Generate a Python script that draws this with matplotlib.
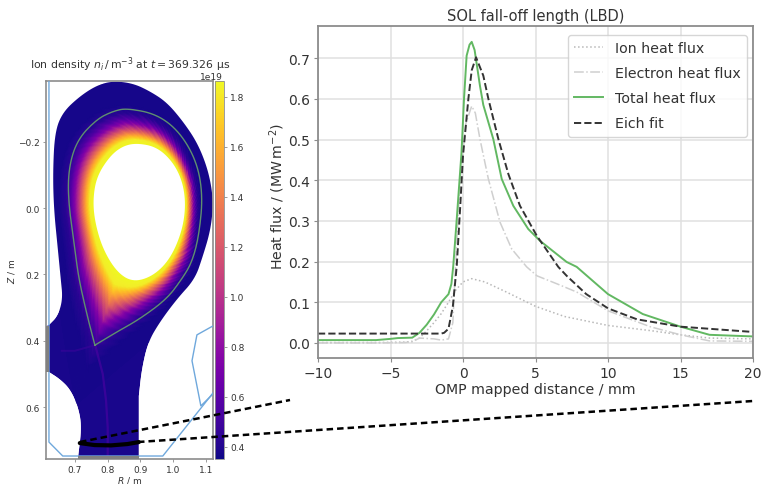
import numpy as np
import matplotlib
matplotlib.use("Agg")
import matplotlib.pyplot as plt
from matplotlib.colors import Normalize
from matplotlib.lines import Line2D
from matplotlib.patches import PathPatch
from matplotlib.path import Path

# ---- heat flux profiles (mm, MW/m^2)
ion_x = [-10, -6, -4, -3.5, -3, -2.5, -2, -1.5, -1, -0.5, 0, 0.6, 1.5, 3, 5, 7, 10, 13, 15, 17, 20]
ion_y = [0.001, 0.001, 0.002, 0.004, 0.012, 0.03, 0.05, 0.072, 0.10, 0.13, 0.15, 0.158, 0.15, 0.125, 0.09, 0.065, 0.043, 0.03, 0.02, 0.012, 0.01]
ele_x = [-10, -6, -4, -3.5, -3, -2, -1.5, -1, -0.7, -0.5, -0.2, 0.2, 0.6, 0.85, 1.17, 1.75, 2.55, 3.36, 4.39, 5.1, 6.5, 7.85, 10, 12.9, 15, 17, 20]
ele_y = [0.0, 0.0, 0.001, 0.003, 0.012, 0.01, 0.007, 0.01, 0.05, 0.2, 0.4, 0.54, 0.582, 0.565, 0.501, 0.403, 0.297, 0.231, 0.187, 0.165, 0.145, 0.125, 0.079, 0.04, 0.02, 0.005, 0.004]
tot_x = [-10, -6, -5, -4.5, -3.5, -3, -2.5, -2, -1.5, -1, -0.8, -0.67, -0.43, -0.1, 0.07, 0.25, 0.45, 0.6, 0.8, 1.17, 1.4, 2.09, 2.67, 3.47, 4.5, 5.31, 7.15, 7.84, 10, 12.4, 15, 17, 20]
tot_y = [0.007, 0.007, 0.01, 0.012, 0.013, 0.025, 0.045, 0.07, 0.10, 0.12, 0.145, 0.19, 0.305, 0.47, 0.60, 0.706, 0.733, 0.74, 0.72, 0.632, 0.585, 0.501, 0.403, 0.337, 0.28, 0.251, 0.199, 0.187, 0.12, 0.071, 0.04, 0.02, 0.016]
eich_x = [-10, -1.5, -1.3, -1, -0.7, -0.43, -0.2, 0, 0.37, 0.6, 0.9, 1.4, 1.75, 2.44, 3.13, 3.93, 5.08, 6.57, 7.15, 8.5, 10, 12, 15, 20]
eich_y = [0.023, 0.023, 0.025, 0.035, 0.09, 0.19, 0.33, 0.46, 0.60, 0.67, 0.702, 0.657, 0.60, 0.501, 0.415, 0.337, 0.264, 0.187, 0.165, 0.12, 0.085, 0.058, 0.04, 0.027]

# ---- machine / plasma geometry (R, Z in m)
edge_R = [0.621, 0.648, 0.663, 0.657, 0.648, 0.636, 0.633, 0.639, 0.663, 0.715, 0.767, 0.816, 0.877, 0.929, 0.980, 1.029, 1.072, 1.102, 1.118, 1.121, 1.112, 1.090, 1.066, 1.011, 0.959, 0.923, 0.904, 0.895]
edge_Z = [0.352, 0.325, 0.274, 0.214, 0.123, 0.003, -0.108, -0.229, -0.289, -0.337, -0.370, -0.383, -0.376, -0.352, -0.319, -0.262, -0.199, -0.127, -0.057, 0.003, 0.072, 0.145, 0.214, 0.274, 0.343, 0.404, 0.485, 0.566]
leg_R = [0.709, 0.721, 0.709, 0.685, 0.654, 0.621]
leg_Z = [0.756, 0.657, 0.596, 0.545, 0.515, 0.494]
lcfs_R = [0.761, 0.740, 0.712, 0.700, 0.679, 0.682, 0.709, 0.767, 0.816, 0.859, 0.950, 1.020, 1.072, 1.090, 1.078, 1.057, 1.026, 0.980, 0.898, 0.828, 0.761]
lcfs_Z = [0.413, 0.334, 0.214, 0.123, -0.027, -0.127, -0.208, -0.268, -0.292, -0.301, -0.283, -0.229, -0.139, -0.036, 0.084, 0.163, 0.214, 0.274, 0.334, 0.373, 0.413]
core_R = [0.889, 0.950, 0.999, 1.029, 1.038, 1.026, 0.990, 0.938, 0.877, 0.828, 0.785, 0.761, 0.755, 0.767, 0.807, 0.846]
core_Z = [-0.196, -0.184, -0.139, -0.078, -0.006, 0.072, 0.154, 0.205, 0.223, 0.193, 0.123, 0.042, -0.027, -0.096, -0.157, -0.187]
wall_R = [0.621, 0.621, 0.663, 0.968, 1.121]
wall_Z = [-0.383, 0.705, 0.747, 0.747, 0.557]
wall2_R = [1.121, 1.072, 1.057, 1.084, 1.121]
wall2_Z = [0.355, 0.382, 0.460, 0.596, 0.560]
target_R = [0.715, 0.76, 0.81, 0.86, 0.895]
target_Z = [0.708, 0.714, 0.715, 0.711, 0.705]
leg_line_R = [0.762, 0.785, 0.795, 0.800, 0.800]
leg_line_Z = [0.413, 0.50, 0.58, 0.66, 0.755]
leg_line2_R = [0.761, 0.70, 0.66]
leg_line2_Z = [0.413, 0.43, 0.43]

# ---- ion density (1e19 m^-3): normalised radius -> density, poloidal scale, fingers
prof_s = [0.0, 0.20, 0.35, 0.50, 0.65, 0.82, 1.0, 1.2, 1.5]
prof_n = [1.86, 1.82, 1.58, 1.30, 1.03, 0.75, 0.55, 0.42, 0.37]
scale_deg = [-180, -135, -90, -45, 0, 45, 90, 135, 180]
scale_val = [1.0, 0.85, 0.75, 0.62, 0.70, 0.85, 0.85, 1.0, 1.0]
amp_val = [0.0, 0.2, 0.6, 1.0, 1.0, 1.0, 0.7, 0.2, 0.0]
finger_val = [0.6, -0.5, 0.8, -0.7, 0.3, 0.9, -0.8, 0.5, -0.3, 0.7, -0.9, 0.4, 0.8, -0.6, 0.2, -0.8, 0.9, -0.4,
              0.6, -0.7, 0.5, 0.2, -0.9, 0.8, -0.3, 0.7, -0.6, 0.9, -0.5, 0.3, -0.8, 0.6, 0.4, -0.7, 0.8, -0.2,
              -0.6, 0.9, -0.4, 0.5, -0.8, 0.7, 0.2, -0.5, 0.9, -0.7, 0.3, 0.6, -0.9, 0.4, -0.3, 0.8, -0.6, 0.7,
              0.5, -0.8, 0.3, 0.9, -0.4, 0.6, -0.7, 0.2, 0.8, -0.9, 0.5, -0.2, 0.7, -0.6, 0.4, 0.9, -0.5, -0.8]
cbar_ticks = [0.4, 0.6, 0.8, 1.0, 1.2, 1.4, 1.6, 1.8]
x_ticks = [-10, -5, 0, 5, 10, 15, 20]
y_ticks = [0.0, 0.1, 0.2, 0.3, 0.4, 0.5, 0.6, 0.7]
r_ticks = [0.7, 0.8, 0.9, 1.0, 1.1]
z_ticks = [-0.2, 0.0, 0.2, 0.4, 0.6]

W, H = 762, 485
def box(l, t, r, b):
    return [l / W, 1 - b / H, (r - l) / W, (b - t) / H]

def chaikin(x, y, n=3, closed=False):
    p = np.column_stack([x, y]).astype(float)
    for _ in range(n):
        q = np.roll(p, -1, axis=0) if closed else p[1:]
        a = p if closed else p[:-1]
        new = np.empty((2 * len(a), 2))
        new[0::2] = 0.75 * a + 0.25 * q
        new[1::2] = 0.25 * a + 0.75 * q
        p = new if closed else np.vstack([p[0], new, p[-1]])
    return p

TXT = "#333333"
SP = "#8c8c8c"
plt.rcParams.update({"font.family": "DejaVu Sans", "text.color": TXT, "axes.labelcolor": TXT,
                     "xtick.labelcolor": TXT, "ytick.labelcolor": TXT, "mathtext.default": "it"})

fig = plt.figure(figsize=(W / 100, H / 100), dpi=100)

# ---------- left map
ax = fig.add_axes(box(46, 82, 213, 460))
vmin, vmax = 0.352, 1.864
norm = Normalize(vmin * 1e19, vmax * 1e19)
cmap = plt.get_cmap("plasma")

edge = chaikin(edge_R, edge_Z)
leg = chaikin(leg_R, leg_Z)
outer = np.vstack([edge, [[0.895, 0.757], [0.709, 0.757]], leg, [[0.612, 0.494], [0.612, 0.355]]])
ax.fill(outer[:, 0], outer[:, 1], color=cmap(norm(0.38e19)), lw=0, zorder=1)

R0, Z0 = 0.89, 0.01
def polar(pts):
    th = np.arctan2(pts[:, 1] - Z0, pts[:, 0] - R0)
    r = np.hypot(pts[:, 0] - R0, pts[:, 1] - Z0)
    i = np.argsort(th)
    return th[i], r[i]

core = chaikin(core_R, core_Z, closed=True)
lcfs = chaikin(lcfs_R, lcfs_Z)
thc, rc = polar(core)
thl, rl = polar(lcfs)
theta = np.linspace(-np.pi, np.pi, 2161)
s = np.linspace(0, 1.8, 121)
TH, S = np.meshgrid(theta, s)
r_core = np.interp(TH, thc, rc, period=2 * np.pi)
r_lcfs = np.interp(TH, thl, rl, period=2 * np.pi)
rad = r_core + S * (r_lcfs - r_core)
RR = R0 + rad * np.cos(TH)
ZZ = Z0 + rad * np.sin(TH)
fing = np.array(finger_val)
idx = ((TH + 0.5 * S + np.pi) / (2 * np.pi) * 3 * len(fing))
frac = idx - np.floor(idx)
f = fing[np.floor(idx).astype(int) % len(fing)] * (1 - frac) + fing[np.ceil(idx).astype(int) % len(fing)] * frac
scale = np.interp(np.degrees(TH), scale_deg, scale_val)
amp = np.interp(np.degrees(TH), scale_deg, amp_val)
s_eff = S / scale * (1 + 0.09 * amp * f * np.clip(S * 3, 0, 1))
dens = np.interp(s_eff, prof_s, prof_n) * 1e19
mesh = ax.pcolormesh(RR, ZZ, dens, cmap=cmap, norm=norm, shading="gouraud", zorder=2)

# white mask outside the plasma edge and inside the core boundary
frame = [[0.5, -0.5], [1.3, -0.5], [1.3, 0.9], [0.5, 0.9]]
def closed_path(p):
    p = np.vstack([p, p[0]])
    codes = [Path.MOVETO] + [Path.LINETO] * (len(p) - 2) + [Path.CLOSEPOLY]
    return Path(p, codes)
mask = Path.make_compound_path(closed_path(np.array(frame)), closed_path(outer[::-1]))
ax.add_patch(PathPatch(mask, fc="white", ec="none", zorder=2.2))
ax.add_patch(PathPatch(closed_path(core), fc="white", ec="none", zorder=2.2))

ax.plot(leg_line_R, leg_line_Z, color=cmap(norm(0.55e19)), lw=1.6, alpha=0.6, zorder=2.5)
ax.plot(leg_line2_R, leg_line2_Z, color=cmap(norm(0.5e19)), lw=1.4, alpha=0.5, zorder=2.5)
ax.plot(lcfs[:, 0], lcfs[:, 1], color="#5f8f6f", lw=1.0, zorder=3)
ax.plot(wall_R, wall_Z, color="#6fa8dc", lw=1.0, zorder=3)
ax.plot(wall2_R, wall2_Z, color="#6fa8dc", lw=1.0, zorder=3)
ax.fill_betweenx([0.355, 0.494], 0.612, 0.621, color="#808080", lw=0, zorder=3)
ax.fill_between([0.709, 0.895], 0.747, 0.757, color="#808080", lw=0, zorder=3)
ax.plot(target_R, target_Z, color="black", lw=3, solid_capstyle="round", zorder=5)

ax.set_xlim(0.612, 1.121)
ax.set_ylim(0.756, -0.383)
ax.set_xticks(r_ticks)
ax.set_yticks(z_ticks)
ax.tick_params(labelsize=6.5, length=2.5, width=0.6, pad=2, color=SP)
for sp in ax.spines.values():
    sp.set_color(SP)
    sp.set_linewidth(1.2)
ax.set_xlabel("$R$ / m", fontsize=6.5, labelpad=-0.5)
ax.set_ylabel("$Z$ / m", fontsize=6.5, labelpad=1)
fig.text(130 / W, 1 - 65 / H, r"Ion density $n_i\,/\,\mathrm{m}^{-3}$ at $t = 369.326$ µs",
         fontsize=7.8, ha="center", va="center")

cax = fig.add_axes(box(215, 82, 224, 460))
sm = plt.cm.ScalarMappable(norm=norm, cmap=cmap)
cb = fig.colorbar(sm, cax=cax)
cb.set_ticks([t * 1e19 for t in cbar_ticks], labels=[f"{t:.1f}" for t in cbar_ticks])
cb.ax.tick_params(labelsize=6.5, length=2.5, width=0.6, pad=2, color=SP)
cb.outline.set_edgecolor(SP)
cb.outline.set_linewidth(0.6)
fig.text(223 / W, 1 - 78 / H, "1e19", fontsize=6.5, ha="right", va="center")

# ---------- right profile
bx = fig.add_axes(box(318, 27, 753, 359))
bx.plot(ion_x, ion_y, color="#b8b8b8", lw=1.1, ls=":", label="Ion heat flux")
bx.plot(ele_x, ele_y, color="#cfcfcf", lw=1.1, ls="-.", label="Electron heat flux")
bx.plot(tot_x, tot_y, color="#62b862", lw=1.4, label="Total heat flux")
bx.plot(eich_x, eich_y, color="#333333", lw=1.4, ls="--", label="Eich fit")
bx.set_xlim(-10, 20)
bx.set_ylim(-0.037, 0.779)
bx.set_xticks(x_ticks)
bx.set_yticks(y_ticks)
bx.grid(True, color="#e0e0e0", lw=1.1)
bx.set_axisbelow(True)
bx.tick_params(labelsize=10, length=3, width=0.8, color=SP, pad=3)
for sp in bx.spines.values():
    sp.set_color(SP)
    sp.set_linewidth(1.3)
bx.set_xlabel("OMP mapped distance / mm", fontsize=10.2, labelpad=1.5)
bx.set_ylabel(r"Heat flux / $(\mathrm{MW\,m^{-2}})$", fontsize=10.2)
bx.yaxis.set_label_coords(-0.071, 0.49)
bx.set_title("SOL fall-off length (LBD)", fontsize=10.5, pad=4)
bx.legend(loc="upper right", bbox_to_anchor=(0.986, 0.973), borderaxespad=0, fontsize=10.2, framealpha=0.8,
          labelspacing=0.78, handlelength=2.05, handletextpad=0.8, borderpad=0.45)

# ---------- connectors between the target and the profile
for x0, y0, x1, y1 in [(80, 443, 290, 401), (138, 443, 753, 402)]:
    fig.add_artist(Line2D([x0 / W, x1 / W], [1 - y0 / H, 1 - y1 / H], transform=fig.transFigure,
                          color="black", lw=1.8, ls=(0, (2.6, 1.6)), zorder=10))

fig.savefig("out.png", dpi=100)
